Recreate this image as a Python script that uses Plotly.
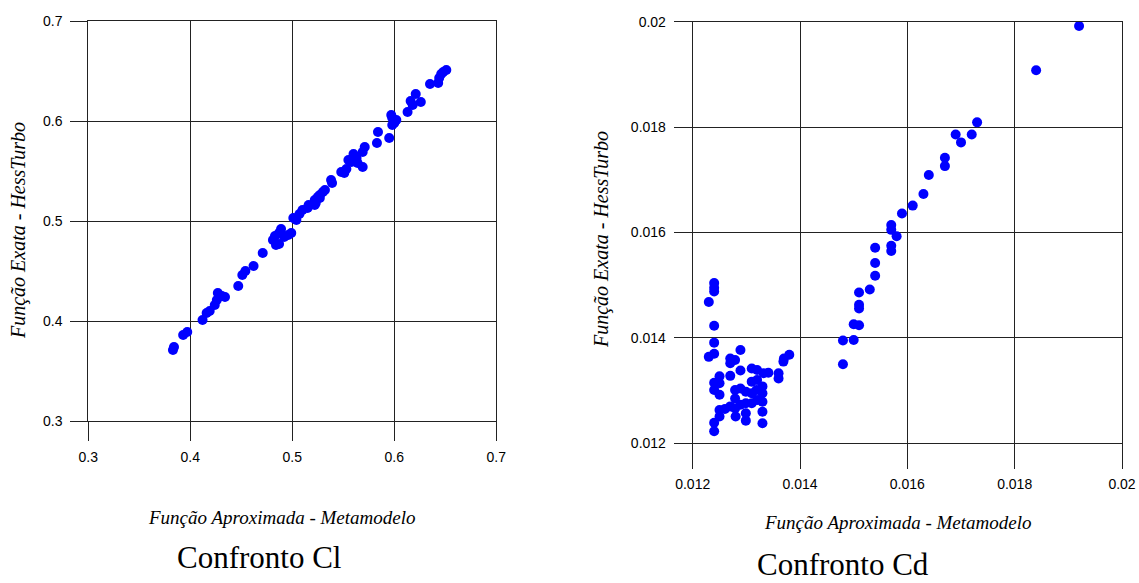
import plotly.graph_objects as go

# ---- Data ----
cl_approx = [0.383, 0.384, 0.393, 0.397, 0.412, 0.416, 0.419, 0.424, 0.426, 0.427, 0.431, 0.434,
             0.447, 0.451, 0.454, 0.462, 0.471, 0.481, 0.484, 0.487, 0.483, 0.487, 0.489, 0.492,
             0.496, 0.499, 0.501, 0.504, 0.507, 0.510, 0.515, 0.516, 0.522, 0.523, 0.525, 0.527,
             0.530, 0.532, 0.527, 0.522, 0.539, 0.538, 0.548, 0.551, 0.553, 0.555, 0.558, 0.560,
             0.563, 0.564, 0.569, 0.571, 0.569, 0.584, 0.583, 0.595, 0.597, 0.598, 0.600, 0.602,
             0.598, 0.613, 0.616, 0.618, 0.621, 0.626, 0.635, 0.643, 0.644, 0.646, 0.648, 0.651]
cl_exact = [0.371, 0.374, 0.386, 0.389, 0.401, 0.408, 0.410, 0.416, 0.421, 0.428, 0.425, 0.424,
            0.435, 0.446, 0.450, 0.455, 0.468, 0.481, 0.476, 0.477, 0.485, 0.488, 0.492, 0.484,
            0.486, 0.488, 0.503, 0.501, 0.507, 0.511, 0.513, 0.516, 0.521, 0.518, 0.524, 0.526,
            0.529, 0.531, 0.523, 0.516, 0.538, 0.541, 0.549, 0.548, 0.552, 0.561, 0.559, 0.567,
            0.563, 0.558, 0.554, 0.574, 0.569, 0.589, 0.578, 0.583, 0.606, 0.603, 0.598, 0.601,
            0.596, 0.609, 0.620, 0.616, 0.627, 0.619, 0.637, 0.638, 0.643, 0.647, 0.649, 0.651]

cd_approx = [0.0192, 0.0184, 0.0173, 0.0169, 0.0170, 0.0172, 0.0167, 0.0167, 0.0164, 0.0163,
             0.0161, 0.0159, 0.0157, 0.0157, 0.0158, 0.0157, 0.0157, 0.0154, 0.0154, 0.0154,
             0.0153, 0.0151, 0.0151, 0.0151, 0.0150, 0.0151, 0.0148, 0.0150, 0.0148,
             0.01240, 0.01240, 0.01240, 0.01230, 0.01240, 0.01240, 0.01230, 0.01240, 0.01289,
             0.01270, 0.01279, 0.01270, 0.01289, 0.01270, 0.01250, 0.01240, 0.01250, 0.01240,
             0.01250, 0.01310, 0.01320, 0.01332, 0.01341, 0.01360, 0.01360, 0.01369, 0.01370,
             0.01380, 0.01310, 0.01320, 0.01330, 0.01330, 0.01330, 0.01320, 0.01279, 0.01289,
             0.01299, 0.01279, 0.01289, 0.01299, 0.01310, 0.01310, 0.01319, 0.01250, 0.01260,
             0.01270, 0.01279, 0.01250, 0.01280, 0.01299, 0.01299, 0.01330, 0.01330, 0.01240,
             0.01240]
cd_exact = [0.01992, 0.01908, 0.01809, 0.01786, 0.01771, 0.01786, 0.01742, 0.01726, 0.01709,
            0.01673, 0.01651, 0.01636, 0.01614, 0.01605, 0.01593, 0.01575, 0.01565, 0.01571,
            0.01542, 0.01518, 0.01492, 0.01486, 0.01463, 0.01456, 0.01426, 0.01424, 0.01395,
            0.01396, 0.01350,
            0.01504, 0.01495, 0.01488, 0.01468, 0.01423, 0.01391, 0.01364, 0.01370, 0.01377,
            0.01361, 0.01358, 0.01352, 0.01338, 0.01328, 0.01327, 0.01315, 0.01314, 0.01301,
            0.01292, 0.01342, 0.01339, 0.01333, 0.01334, 0.01333, 0.01323, 0.01355, 0.01361,
            0.01368, 0.01317, 0.01320, 0.01308, 0.01295, 0.01279, 0.01282, 0.01301, 0.01304,
            0.01298, 0.01285, 0.01273, 0.01276, 0.01295, 0.01276, 0.01301, 0.01263, 0.01265,
            0.01270, 0.01266, 0.01251, 0.01251, 0.01257, 0.01243, 0.01260, 0.01238, 0.01239,
            0.01223]

cl_ticks = [0.3, 0.4, 0.5, 0.6, 0.7]
cd_ticks = [0.012, 0.014, 0.016, 0.018, 0.02]
cl_ticktext = ["0.3", "0.4", "0.5", "0.6", "0.7"]
cd_ticktext = ["0.012", "0.014", "0.016", "0.018", "0.02"]

x_title = "Função Aproximada - Metamodelo"
y_title = "Função Exata - HessTurbo"
sub_left = "Confronto Cl"
sub_right = "Confronto Cd"

W, H = 1139, 583
def px(x):
    return x / W
def py(y):
    return 1 - y / H

fig = go.Figure()
marker = dict(color="#0000ff", size=10, line=dict(width=0))
fig.add_trace(go.Scatter(x=cl_approx, y=cl_exact, mode="markers", marker=marker,
                         xaxis="x", yaxis="y", showlegend=False, hoverinfo="x+y"))
fig.add_trace(go.Scatter(x=cd_approx, y=cd_exact, mode="markers", marker=marker,
                         xaxis="x2", yaxis="y2", showlegend=False, hoverinfo="x+y"))

tickfont = dict(family="Liberation Sans, Arial, sans-serif", size=14, color="#000000")
common = dict(showgrid=True, gridcolor="#222222", gridwidth=1, showline=True, linecolor="#222222",
              linewidth=1, mirror=True, ticks="outside", tickcolor="#222222", tickwidth=1,
              zeroline=False, tickfont=tickfont, fixedrange=True, automargin=False)

fig.update_layout(
    template="none",
    width=W, height=H,
    margin=dict(l=0, r=0, t=0, b=0, pad=0, autoexpand=False),
    paper_bgcolor="white", plot_bgcolor="white",
    showlegend=False,
    xaxis=dict(domain=[px(88.3), px(496.3)], range=[0.3, 0.7], tickvals=cl_ticks,
               ticktext=cl_ticktext, anchor="y", ticklen=19, ticklabelstandoff=4, **common),
    yaxis=dict(domain=[py(421), py(21)], range=[0.3, 0.7], tickvals=cl_ticks,
               ticktext=cl_ticktext, anchor="x", ticklen=17, ticklabelstandoff=5, **common),
    xaxis2=dict(domain=[px(692.7), px(1122)], range=[0.012, 0.02], tickvals=cd_ticks,
                ticktext=cd_ticktext, anchor="y2", ticklen=25, ticklabelstandoff=3, **common),
    yaxis2=dict(domain=[py(443.3), py(21.7)], range=[0.012, 0.02], tickvals=cd_ticks,
                ticktext=cd_ticktext, anchor="x2", ticklen=18, ticklabelstandoff=5, **common),
)

title_font = dict(family="Liberation Serif, Times New Roman, serif", size=19, color="#000000")
ytitle_font = dict(family="Liberation Serif, Times New Roman, serif", size=20, color="#000000")
sub_font = dict(family="Liberation Serif, Times New Roman, serif", size=31, color="#000000")

annots = [
    dict(text="<i>" + x_title + "</i>", x=px(281), y=py(517), font=title_font),
    dict(text="<i>" + x_title + "</i>", x=px(897), y=py(522), font=title_font),
    dict(text="<i>" + y_title + "</i>", x=px(18), y=py(231), font=ytitle_font, textangle=-90),
    dict(text="<i>" + y_title + "</i>", x=px(601), y=py(240), font=ytitle_font, textangle=-90),
    dict(text=sub_left, x=px(259), y=py(557), font=sub_font),
    dict(text=sub_right, x=px(843), y=py(564), font=sub_font),
]
for a in annots:
    a.update(xref="paper", yref="paper", showarrow=False, xanchor="center", yanchor="middle")
    fig.add_annotation(**a)

fig.write_html("out.html", config={"displayModeBar": False})
